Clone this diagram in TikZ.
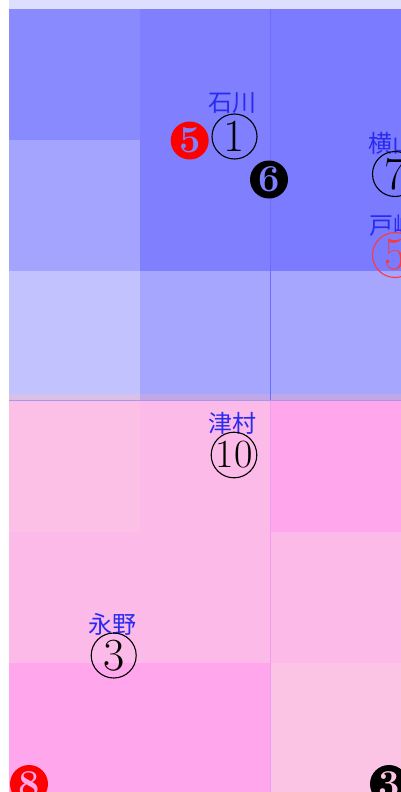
\documentclass[tikz,border=0pt]{standalone}
\usepackage{fontspec}
\newfontfamily\jp{Noto Sans CJK JP}
\definecolor{topstrip}{HTML}{DEDEFE}
\definecolor{bA}{HTML}{8A8AFF}
\definecolor{bB}{HTML}{8080FF}
\definecolor{bC}{HTML}{7B7BFF}
\definecolor{bD}{HTML}{A4A4FF}
\definecolor{bE}{HTML}{C2C2FF}
\definecolor{bF}{HTML}{A6A6FF}
\definecolor{sA}{HTML}{D8C0E6}
\definecolor{sB}{HTML}{C0A8E8}
\definecolor{pA}{HTML}{FCC0E6}
\definecolor{pB}{HTML}{FCBAE8}
\definecolor{pC}{HTML}{FFA6EC}
\definecolor{pD}{HTML}{FCC4E4}
\definecolor{bline}{HTML}{6C6CFF}
\definecolor{pline}{HTML}{F09CF0}
\definecolor{lbl}{HTML}{2A2AF0}
\definecolor{redc}{HTML}{FF0000}
\definecolor{redo}{HTML}{FF3838}
\tikzset{
  name label/.style={text=lbl, inner sep=0pt, font=\jp\fontsize{24}{24}\selectfont},
  ring/.style={circle, draw=black, line width=1.1pt, minimum size=45pt, inner sep=0pt,
    font=\fontsize{46}{46}\selectfont},
  disc/.style={circle, fill=#1, minimum size=38pt, inner sep=0pt,
    font=\bfseries\fontsize{38}{38}\selectfont},
}
\begin{document}
\begin{tikzpicture}[x=1pt,y=-1pt]
\useasboundingbox (0,0) rectangle (401,792);
\fill[white] (0,0) rectangle (401,792);
% top strip
\fill[topstrip] (9,0) rectangle (401,9);
% blue region
\fill[bA] (9,9) rectangle (140,140);
\fill[bB] (140,9) rectangle (270,140);
\fill[bC] (270,9) rectangle (401,140);
\fill[bD] (9,140) rectangle (140,271);
\fill[bB] (140,140) rectangle (270,271);
\fill[bC] (270,140) rectangle (401,271);
\fill[bE] (9,271) rectangle (140,394);
\fill[bF] (140,271) rectangle (270,394);
\fill[bF] (270,271) rectangle (401,394);
% overlap strip
\fill[sA] (9,394) rectangle (140,401);
\fill[sB] (140,394) rectangle (401,401);
% pink region
\fill[pA] (9,401) rectangle (140,532);
\fill[pB] (140,401) rectangle (270,532);
\fill[pC] (270,401) rectangle (401,532);
\fill[pB] (9,532) rectangle (270,663);
\fill[pB] (270,532) rectangle (401,663);
\fill[pC] (9,663) rectangle (270,792);
\fill[pD] (270,663) rectangle (401,792);
% thin borders
\draw[bline, line width=0.6pt] (270,9) -- (270,401);
\draw[sB!70!bline, line width=0.4pt] (9,400.6) -- (401,400.6);
\draw[pline, line width=0.6pt] (270,401) -- (270,792);
% labels
\node[name label] (ishikawa) at (232,103) {石川};
\node[ring] (n1) at (234.5,136.5) {1};
\node[disc=redc, text=bB] (r5) at (189.7,140.5) {5};
\node[disc=black, text=bB] (b6) at (269,179.5) {6};
\node[name label] (yokoyama) at (392,143) {横山};
\node[ring] (n7) at (395,174) {7};
\node[name label] (tozaki) at (393,225) {戸崎};
\node[ring, draw=redo, text=redo] (n5) at (395,255) {5};
\node[name label] (tsumura) at (232,423) {津村};
\node[ring] (n10) at (234,455) {\fontsize{40}{40}\selectfont 10};
\node[name label] (nagano) at (112.7,624) {永野};
\node[ring] (n3) at (113.7,655.5) {3};
\node[disc=redc, text=pC] (r8) at (29,784) {8};
\node[disc=black, text=pD] (b3) at (389,784) {3};
\end{tikzpicture}
\end{document}
